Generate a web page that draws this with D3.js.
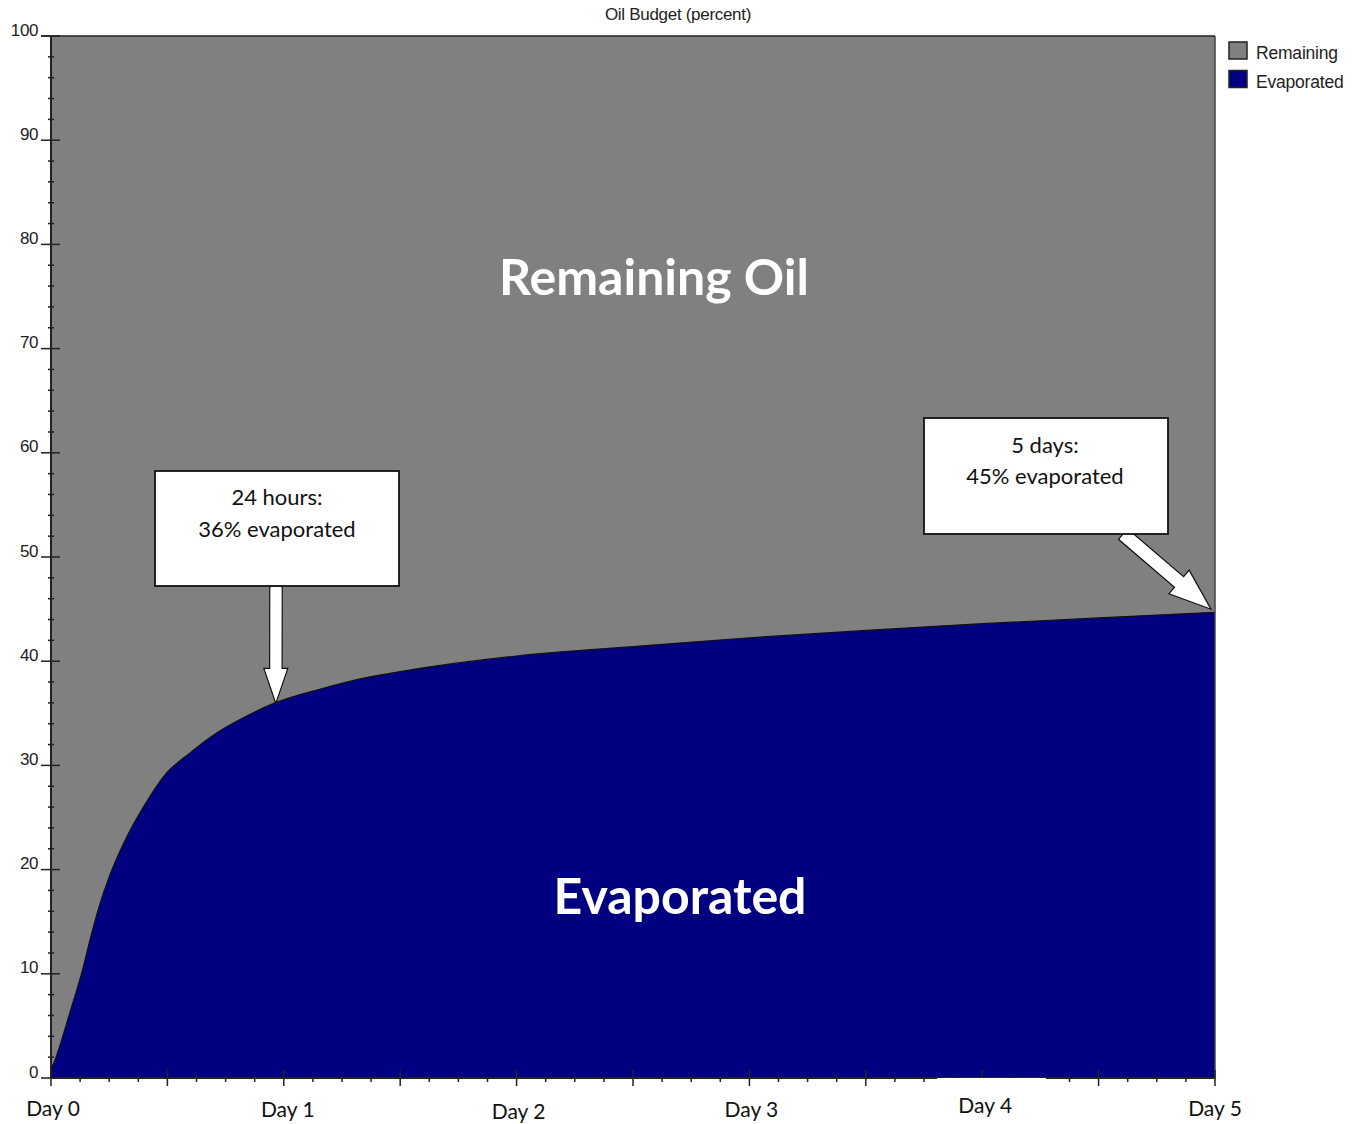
<!DOCTYPE html>
<html>
<head>
<meta charset="utf-8">
<script src="https://cdn.jsdelivr.net/npm/d3@7"></script>
<style>
  html, body { margin: 0; padding: 0; background: #ffffff; }
  svg { display: block; }
</style>
</head>
<body>
<svg id="chart" width="1359" height="1124"></svg>
<script>
// ---- data ----
const hours      = [0, 0.1, 0.41, 1.1, 2.13, 3.16, 3.95, 4.88, 6.08, 7.63, 9.52, 11.75, 14.33, 16.73, 19.48, 23.09, 28.07, 31.86, 36, 48, 60, 72, 84, 96, 108, 120];
const evaporated = [0, 0.9, 1.7, 3.65, 6.84, 10.05, 13.0, 16.2, 19.5, 22.8, 26.0, 29.1, 31.2, 32.9, 34.4, 36.0, 37.4, 38.3, 39.0, 40.5, 41.4, 42.25, 42.95, 43.6, 44.15, 44.7];
const dayLabels  = ["Day 0", "Day 1", "Day 2", "Day 3", "Day 4", "Day 5"];
const dayHours   = [0, 24, 48, 72, 96, 120];
const dayLabelDx = [2, 4, 2, 2, 3, 0];
const dayLabelDy = [0, 1, 3, 1, -3, 0];
const yTicks     = [0, 10, 20, 30, 40, 50, 60, 70, 80, 90, 100];
const legendNames = ["Remaining", "Evaporated"];
const notes = [
  { lines: ["24 hours:", "36% evaporated"], hour: 24, value: 36 },
  { lines: ["5 days:", "45% evaporated"], hour: 120, value: 44.7 }
];

// ---- layout ----
const L = 51, R = 1215, T = 36, B = 1078;
const colors = { remaining: "#808080", evaporated: "#000080" };
const svg = d3.select("#chart");

const x = d3.scaleLinear().domain([0, 120]).range([L, R]);
const y = d3.scaleLinear().domain([0, 100]).range([B, T]);

// background remaining area (full plot)
svg.append("rect").attr("x", L).attr("y", T).attr("width", R - L).attr("height", B - T)
  .attr("fill", colors.remaining);

const pts = hours.map((h, i) => [h, evaporated[i]]);
const area = d3.area().x(d => x(d[0])).y0(y(0)).y1(d => y(d[1])).curve(d3.curveMonotoneX);
svg.append("path").datum(pts).attr("d", area).attr("fill", colors.evaporated);
const line = d3.line().x(d => x(d[0])).y(d => y(d[1])).curve(d3.curveMonotoneX);
svg.append("path").datum(pts).attr("d", line).attr("fill", "none")
  .attr("stroke", "#111").attr("stroke-width", 1.2);

// frame
svg.append("line").attr("x1", 41).attr("x2", R).attr("y1", T).attr("y2", T)
  .attr("stroke", "#222").attr("stroke-width", 1.5);
svg.append("line").attr("x1", R).attr("x2", R).attr("y1", T).attr("y2", B)
  .attr("stroke", "#444").attr("stroke-width", 1.5);

// y axis
const yAxisG = svg.append("g");
yAxisG.append("line").attr("x1", L).attr("x2", L).attr("y1", T).attr("y2", B)
  .attr("stroke", "#222").attr("stroke-width", 2);
const minorY = d3.range(0, 101, 2).filter(v => v % 10 !== 0);
yAxisG.selectAll("line.minor").data(minorY).join("line").attr("class", "minor")
  .attr("x1", 48).attr("x2", 54).attr("y1", d => y(d)).attr("y2", d => y(d))
  .attr("stroke", "#222").attr("stroke-width", 1.5);
yAxisG.selectAll("line.major").data(yTicks).join("line").attr("class", "major")
  .attr("x1", 41).attr("x2", 60).attr("y1", d => y(d)).attr("y2", d => y(d))
  .attr("stroke", "#222").attr("stroke-width", 1.5);
yAxisG.selectAll("text").data(yTicks).join("text")
  .attr("x", 38).attr("y", d => y(d) - 0.5).attr("text-anchor", "end")
  .attr("font-family", "Liberation Sans, Arial, sans-serif").attr("font-size", 17)
  .attr("letter-spacing", -0.4).attr("fill", "#222").text(d => d);

// x axis
const xAxisG = svg.append("g");
xAxisG.append("line").attr("x1", L).attr("x2", R).attr("y1", B).attr("y2", B)
  .attr("stroke", "#222").attr("stroke-width", 2);
const minorX = d3.range(0, 121, 3).filter(h => h % 12 !== 0);
const majorX = d3.range(0, 121, 12);
xAxisG.selectAll("line.minor").data(minorX).join("line").attr("class", "minor")
  .attr("x1", d => x(d)).attr("x2", d => x(d)).attr("y1", 1076).attr("y2", 1082)
  .attr("stroke", "#222").attr("stroke-width", 1.5);
xAxisG.selectAll("line.major").data(majorX).join("line").attr("class", "major")
  .attr("x1", d => x(d)).attr("x2", d => x(d)).attr("y1", 1070).attr("y2", 1086)
  .attr("stroke", "#222").attr("stroke-width", 1.5);
// white patch behind the Day 4 label
svg.append("rect").attr("x", 937).attr("y", 1078).attr("width", 109).attr("height", 16).attr("fill", "#fff");

xAxisG.selectAll("text").data(dayLabels).join("text")
  .attr("x", (d, i) => x(dayHours[i]) + dayLabelDx[i])
  .attr("y", (d, i) => 1116 + dayLabelDy[i])
  .attr("text-anchor", "middle")
  .attr("font-family", "Lato, 'Open Sans', sans-serif").attr("font-size", 21)
  .attr("fill", "#111").text(d => d);

// title
svg.append("text").attr("x", 678).attr("y", 20).attr("text-anchor", "middle")
  .attr("font-family", "Liberation Sans, Arial, sans-serif").attr("font-size", 17)
  .attr("letter-spacing", -0.3).attr("fill", "#222").text("Oil Budget (percent)");

// legend
const legColors = [colors.remaining, colors.evaporated];
const leg = svg.append("g");
legendNames.forEach((name, i) => {
  const gy = 42 + i * 28.5;
  leg.append("rect").attr("x", 1229).attr("y", gy).attr("width", 18).attr("height", 17)
    .attr("fill", legColors[i]).attr("stroke", "#222").attr("stroke-width", 1.5);
  leg.append("text").attr("x", 1256).attr("y", gy + 17)
    .attr("font-family", "Liberation Sans, Arial, sans-serif").attr("font-size", 17.5)
    .attr("letter-spacing", -0.2).attr("fill", "#222").text(name);
});

// big labels
svg.append("text").attr("x", 654).attr("y", 295).attr("text-anchor", "middle")
  .attr("font-family", "Lato, sans-serif").attr("font-weight", "bold").attr("font-size", 50)
  .attr("fill", "#fff").text("Remaining Oil");
svg.append("text").attr("x", 680).attr("y", 914).attr("text-anchor", "middle")
  .attr("font-family", "Lato, sans-serif").attr("font-weight", "bold").attr("font-size", 50)
  .attr("fill", "#fff").text("Evaporated");

// annotation boxes and arrows
function arrowPoly(x0, y0, x1, y1, shaftW, headW, headL) {
  const dx = x1 - x0, dy = y1 - y0, len = Math.hypot(dx, dy);
  const ux = dx / len, uy = dy / len, nx = -uy, ny = ux;
  const bx = x1 - ux * headL, by = y1 - uy * headL;
  const p = (px, py, s) => [px + nx * s, py + ny * s];
  return [p(x0, y0, -shaftW / 2), p(bx, by, -shaftW / 2), p(bx, by, -headW / 2), [x1, y1],
          p(bx, by, headW / 2), p(bx, by, shaftW / 2), p(x0, y0, shaftW / 2)];
}
const boxes = [
  { x0: 155, y0: 471, x1: 399, y1: 586, cx: 277, ty: [505, 537],
    arrow: [276, 586, x(notes[0].hour) - 8, y(notes[0].value) + 0.5, 12.5, 24, 35] },
  { x0: 924, y0: 418, x1: 1168, y1: 534, cx: 1045, ty: [453, 484],
    arrow: [1123, 534, x(notes[1].hour) - 4, y(notes[1].value) - 3, 14, 31, 42] }
];
boxes.forEach((b, i) => {
  const a = b.arrow;
  svg.append("polygon").attr("points", arrowPoly(...a).map(p => p.join(",")).join(" "))
    .attr("fill", "#fff").attr("stroke", "#111").attr("stroke-width", 1.2);
  svg.append("rect").attr("x", b.x0).attr("y", b.y0).attr("width", b.x1 - b.x0).attr("height", b.y1 - b.y0)
    .attr("fill", "#fff").attr("stroke", "#111").attr("stroke-width", 1.8);
  notes[i].lines.forEach((t, j) => {
    svg.append("text").attr("x", b.cx).attr("y", b.ty[j]).attr("text-anchor", "middle")
      .attr("font-family", "Lato, 'Open Sans', sans-serif").attr("font-size", 22)
      .attr("fill", "#111").text(t);
  });
});
</script>
</body>
</html>
